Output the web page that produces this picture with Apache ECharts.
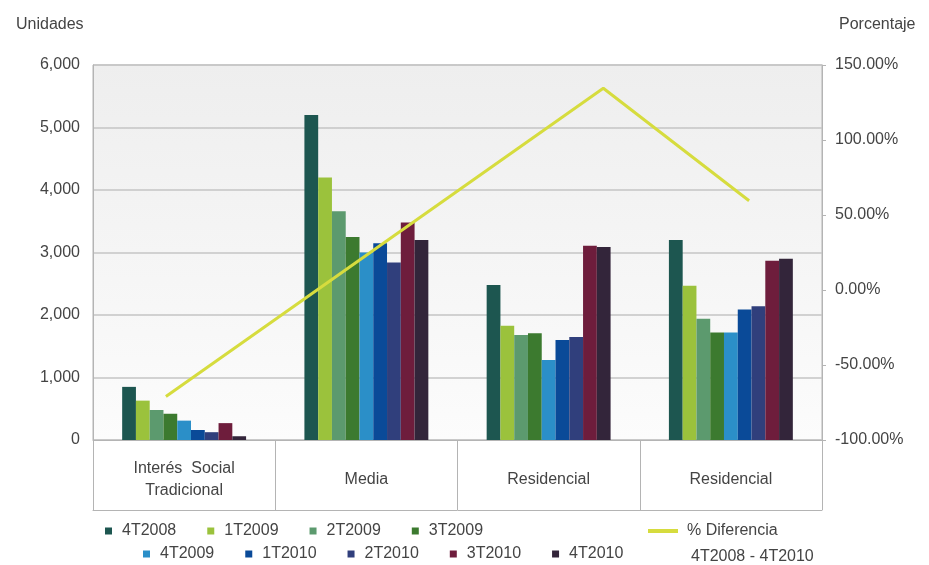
<!DOCTYPE html>
<html>
<head>
<meta charset="utf-8">
<script src="https://cdn.jsdelivr.net/npm/echarts@6/dist/echarts.min.js"></script>
<style>html,body{margin:0;padding:0;background:#fff}#c{width:929px;height:565px}</style>
</head>
<body>
<div id="c"></div>
<script>
// ---- data ----
const categories = ['Interés  Social\nTradicional', 'Media', 'Residencial', 'Residencial'];
const periods = ['4T2008', '1T2009', '2T2009', '3T2009', '4T2009', '1T2010', '2T2010', '3T2010', '4T2010'];
const v4T2008 = [850, 5200, 2480, 3200];
const v1T2009 = [630, 4200, 1830, 2470];
const v2T2009 = [480, 3660, 1680, 1940];
const v3T2009 = [420, 3250, 1710, 1720];
const v4T2009 = [310, 3000, 1280, 1720];
const v1T2010 = [160, 3150, 1600, 2090];
const v2T2010 = [125, 2840, 1650, 2140];
const v3T2010 = [270, 3480, 3110, 2870];
const v4T2010 = [60, 3200, 3090, 2900];
const barValues = [v4T2008, v1T2009, v2T2009, v3T2009, v4T2009, v1T2010, v2T2010, v3T2010, v4T2010];
// line drawn on its own 5-slot category scale (as in the reference)
const lineSlots = ['s1', 's2', 's3', 's4', 's5'];
const pctDiferencia = [-71, null, null, 134.5, 59.5];
const leftTicks = { min: 0, max: 6000, interval: 1000 };
const rightTicks = { min: -100, max: 150, interval: 50 };

const colors = ['#1d5650', '#9bc23c', '#5c9a6e', '#3c7a2f', '#2b8fc8', '#0a4a98', '#303f7c', '#6e1d3c', '#33253a'];
const FONT = "'Liberation Sans', Arial, sans-serif";
const TXT = '#444';

const chart = echarts.init(document.getElementById('c'));

const series = periods.map((p, i) => ({
  name: p, type: 'bar', xAxisIndex: 0, yAxisIndex: 0,
  data: barValues[i], barGap: '0%', barCategoryGap: '32%',
  itemStyle: { color: colors[i] }
}));
series.push({
  name: '% Diferencia', type: 'line', xAxisIndex: 1, yAxisIndex: 1,
  data: pctDiferencia, connectNulls: true, symbol: 'none', z: 5,
  lineStyle: { color: '#d6dc3e', width: 3 }, itemStyle: { color: '#d6dc3e' }
});

const legendText = { color: TXT, fontSize: 16, fontFamily: FONT, width: 58, padding: [0, 0, 0, 5] };

chart.setOption({
  animation: false,
  title: [
    { text: 'Unidades', left: 11, top: 12, textStyle: { color: TXT, fontSize: 16, fontWeight: 'normal', fontFamily: FONT } },
    { text: 'Porcentaje', left: 834, top: 12, textStyle: { color: TXT, fontSize: 16, fontWeight: 'normal', fontFamily: FONT } },
    { text: '4T2008 - 4T2010', left: 686, top: 544, textStyle: { color: TXT, fontSize: 16, fontWeight: 'normal', fontFamily: FONT } }
  ],
  grid: {
    left: 93, right: 107, top: 65, bottom: 125, show: true,
    borderColor: '#b4b4b4', borderWidth: 1,
    backgroundColor: new echarts.graphic.LinearGradient(0, 0, 0, 1, [
      { offset: 0, color: '#eeeeee' }, { offset: 1, color: '#fcfcfc' }
    ])
  },
  legend: [
    { data: periods.slice(0, 4), left: 105, top: 523, padding: 0, itemGap: 31, icon: 'rect',
      itemWidth: 7, itemHeight: 7, textStyle: legendText },
    { data: periods.slice(4), left: 143, top: 546, padding: 0, itemGap: 31, icon: 'rect',
      itemWidth: 7, itemHeight: 7, textStyle: legendText },
    { data: ['% Diferencia'], left: 648, top: 523, padding: 0, icon: 'rect',
      itemWidth: 30, itemHeight: 4, textStyle: { color: TXT, fontSize: 16, fontFamily: FONT, padding: [0, 0, 0, 4] } }
  ],
  xAxis: [
    { type: 'category', data: categories, position: 'bottom',
      axisLine: { lineStyle: { color: '#b4b4b4' } },
      axisTick: { show: true, length: 70, interval: 0, lineStyle: { color: '#b4b4b4' } },
      axisLabel: { interval: 0, margin: 40, verticalAlign: 'middle', color: TXT, fontSize: 16, lineHeight: 22, fontFamily: FONT } },
    { type: 'category', data: lineSlots, show: false, boundaryGap: true },
    { type: 'category', data: categories, position: 'bottom', offset: 70,
      axisLine: { show: true, lineStyle: { color: '#b4b4b4' } }, axisTick: { show: false }, axisLabel: { show: false } }
  ],
  yAxis: [
    { type: 'value', min: leftTicks.min, max: leftTicks.max, interval: leftTicks.interval,
      axisLine: { show: true, lineStyle: { color: '#b4b4b4' } }, axisTick: { show: false },
      splitLine: { lineStyle: { color: '#c4c4c4', width: 1.5 } },
      axisLabel: { margin: 13, color: TXT, fontSize: 16, fontFamily: FONT,
        formatter: v => v.toLocaleString('en-US') } },
    { type: 'value', position: 'right', min: rightTicks.min, max: rightTicks.max, interval: rightTicks.interval,
      axisLine: { show: true, lineStyle: { color: '#b4b4b4' } },
      axisTick: { show: true, length: 4, lineStyle: { color: '#b4b4b4' } },
      splitLine: { show: false },
      axisLabel: { margin: 13, color: TXT, fontSize: 16, fontFamily: FONT,
        formatter: v => v.toFixed(2) + '%' } }
  ],
  series: series
});
</script>
</body>
</html>
